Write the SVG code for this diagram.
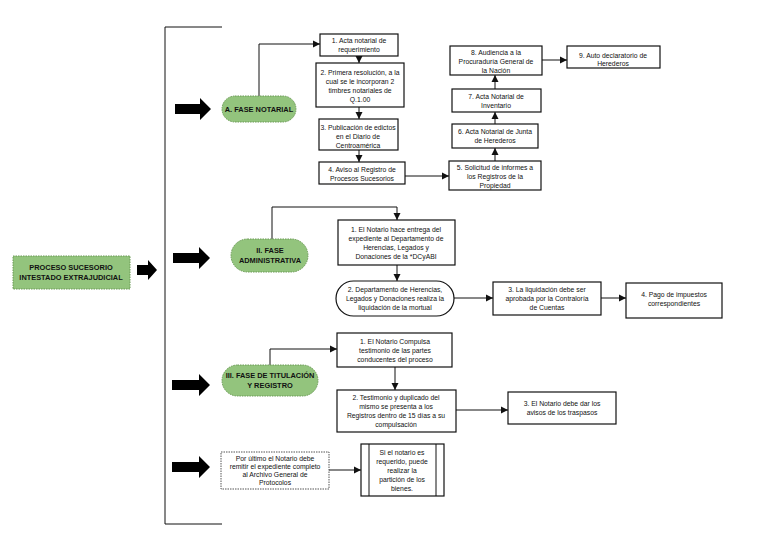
<svg xmlns="http://www.w3.org/2000/svg" width="768" height="543" viewBox="0 0 768 543">
<style>
text{font-family:"Liberation Sans",Arial,sans-serif;font-size:6.8px;fill:#111;text-anchor:middle}
.b{font-weight:bold;font-size:7.4px}
.box{fill:#fff;stroke:#111;stroke-width:1.2}
.pill{fill:#93c47d;stroke:#6a9a55;stroke-width:1;stroke-dasharray:1.5 1}
.ln{fill:none;stroke:#111;stroke-width:1}
.big{fill:#000}
</style>
<defs><marker id="a" markerWidth="8" markerHeight="8" refX="7" refY="4" orient="auto" markerUnits="userSpaceOnUse"><path d="M0,0.5 L7,4 L0,7.5z" fill="#111"/></marker></defs>
<rect width="768" height="543" fill="#fff"/>
<g id="connectors">
<path class="ln" d="M222,27 H165 V524 H222"/>
<path class="ln" d="M259,96 V44 H320" marker-end="url(#a)"/>
<path class="ln" d="M359,56 V63" marker-end="url(#a)"/>
<path class="ln" d="M359,107 V119" marker-end="url(#a)"/>
<path class="ln" d="M359,150 V162" marker-end="url(#a)"/>
<path class="ln" d="M405,176 H449" marker-end="url(#a)"/>
<path class="ln" d="M495,161 V148" marker-end="url(#a)"/>
<path class="ln" d="M495,124 V112" marker-end="url(#a)"/>
<path class="ln" d="M495,89 V75" marker-end="url(#a)"/>
<path class="ln" d="M542,60 H567" marker-end="url(#a)"/>
<path class="ln" d="M272,239 V207 H397 V220" marker-end="url(#a)"/>
<path class="ln" d="M397,265 V281" marker-end="url(#a)"/>
<path class="ln" d="M454,298 H493" marker-end="url(#a)"/>
<path class="ln" d="M601,298 H626" marker-end="url(#a)"/>
<path class="ln" d="M270,365 V349 H337" marker-end="url(#a)"/>
<path class="ln" d="M395,367 V390" marker-end="url(#a)"/>
<path class="ln" d="M456,410 H508" marker-end="url(#a)"/>
<path class="ln" d="M329,470 H361" marker-end="url(#a)"/>
<g class="big">
<path d="M137,265 H148 V260 L157,270 L148,280 V275 H137z"/>
<path d="M175,104 H200 V98 L211,109 L200,120 V114 H175z"/>
<path d="M173,253 H199 V247 L210,258 L199,269 V263 H173z"/>
<path d="M172,380 H199 V374 L210,385 L199,396 V390 H172z"/>
<path d="M172,462 H199 V456 L210,467 L199,478 V472 H172z"/>
</g>
</g>
<g id="start"><rect x="13" y="256" width="117" height="33" fill="#93c47d" stroke="#6a9a55" stroke-dasharray="1.5 1"/><text class="b" x="71" y="270">PROCESO SUCESORIO</text><text class="b" x="71" y="280">INTESTADO EXTRAJUDICIAL</text></g>
<g id="faseA"><rect class="pill" x="222" y="96" width="74" height="26" rx="13"/><text class="b" x="259" y="112">A. FASE NOTARIAL</text></g>
<g id="a1"><rect class="box" x="320" y="34" width="78" height="22"/><text x="359" y="43">1. Acta notarial de</text><text x="359" y="52">requerimiento</text></g>
<g id="a2"><rect class="box" x="316" y="63" width="88" height="44"/><text x="360" y="75">2. Primera resolución, a la</text><text x="360" y="84">cual se le incorporan 2</text><text x="360" y="93">timbres notariales de</text><text x="360" y="102">Q.1.00</text></g>
<g id="a3"><rect class="box" x="319" y="119" width="79" height="31"/><text x="358" y="130">3. Publicación de edictos</text><text x="358" y="139">en el Diario de</text><text x="358" y="148">Centroamérica</text></g>
<g id="a4"><rect class="box" x="319" y="162" width="86" height="22"/><text x="362" y="172">4. Aviso al Registro de</text><text x="362" y="181">Procesos Sucesorios</text></g>
<g id="a5"><rect class="box" x="449" y="161" width="92" height="29"/><text x="495" y="170">5. Solicitud de informes a</text><text x="495" y="179">los Registros de la</text><text x="495" y="188">Propiedad</text></g>
<g id="a6"><rect class="box" x="452" y="124" width="86" height="24"/><text x="495" y="134">6. Acta Notarial de Junta</text><text x="495" y="143">de Herederos</text></g>
<g id="a7"><rect class="box" x="452" y="89" width="89" height="23"/><text x="496" y="99">7. Acta Notarial de</text><text x="496" y="108">Inventario</text></g>
<g id="a8"><rect class="box" x="450" y="46" width="92" height="29"/><text x="496" y="55">8. Audiencia a la</text><text x="496" y="64">Procuraduría General de</text><text x="496" y="73">la Nación</text></g>
<g id="a9"><rect class="box" x="567" y="46" width="93" height="22"/><text x="613" y="58">9. Auto declaratorio de</text><text x="613" y="66">Herederos</text></g>
<g id="faseII"><rect class="pill" x="231" y="239" width="77" height="33" rx="16.5"/><text class="b" x="270" y="253">II. FASE</text><text class="b" x="270" y="263">ADMINISTRATIVA</text></g>
<g id="b1"><rect class="box" x="338" y="220" width="117" height="45"/><text x="396" y="232">1. El Notario hace entrega del</text><text x="396" y="241">expediente al Departamento de</text><text x="396" y="250">Herencias, Legados y</text><text x="396" y="259">Donaciones de la *DCyABI</text></g>
<g id="b2"><rect class="box" x="336" y="281" width="118" height="35" rx="17.5"/><text x="395" y="292">2. Departamento de Herencias,</text><text x="395" y="301">Legados y Donaciones realiza la</text><text x="395" y="310">liquidación de la mortual</text></g>
<g id="b3"><rect class="box" x="493" y="282" width="108" height="33"/><text x="547" y="292">3. La liquidación debe ser</text><text x="547" y="301">aprobada por la Contraloría</text><text x="547" y="310">de Cuentas</text></g>
<g id="b4"><rect class="box" x="626" y="283" width="96" height="35"/><text x="674" y="297">4. Pago de impuestos</text><text x="674" y="306">correspondientes</text></g>
<g id="faseIII"><rect class="pill" x="222" y="365" width="96" height="31" rx="15.5"/><text class="b" x="270" y="378">III. FASE DE TITULACIÓN</text><text class="b" x="270" y="388">Y REGISTRO</text></g>
<g id="c1"><rect class="box" x="337" y="333" width="115" height="34"/><text x="395" y="344">1. El Notario Compulsa</text><text x="395" y="353">testimonio de las partes</text><text x="395" y="362">conducentes del proceso</text></g>
<g id="c2"><rect class="box" x="337" y="390" width="119" height="42"/><text x="396" y="400">2. Testimonio y duplicado del</text><text x="396" y="409">mismo se presenta a los</text><text x="396" y="418">Registros dentro de 15 días a su</text><text x="396" y="427">compulsación</text></g>
<g id="c3"><rect class="box" x="508" y="392" width="108" height="32"/><text x="562" y="406">3. El Notario debe dar los</text><text x="562" y="415">avisos de los traspasos</text></g>
<g id="d1"><rect x="221" y="452" width="108" height="37" fill="#fff" stroke="#555" stroke-dasharray="1.5 1"/><text x="275" y="461">Por último el Notario debe</text><text x="275" y="469">remitir el expediente completo</text><text x="275" y="477">al Archivo General de</text><text x="275" y="485">Protocolos</text></g>
<g id="d2"><rect class="box" x="361" y="444" width="83" height="52"/><path class="ln" d="M369,444 V496 M436,444 V496"/><text x="402" y="455">Si el notario es</text><text x="402" y="464">requerido, puede</text><text x="402" y="473">realizar la</text><text x="402" y="482">partición de los</text><text x="402" y="491">bienes.</text></g>
</svg>
